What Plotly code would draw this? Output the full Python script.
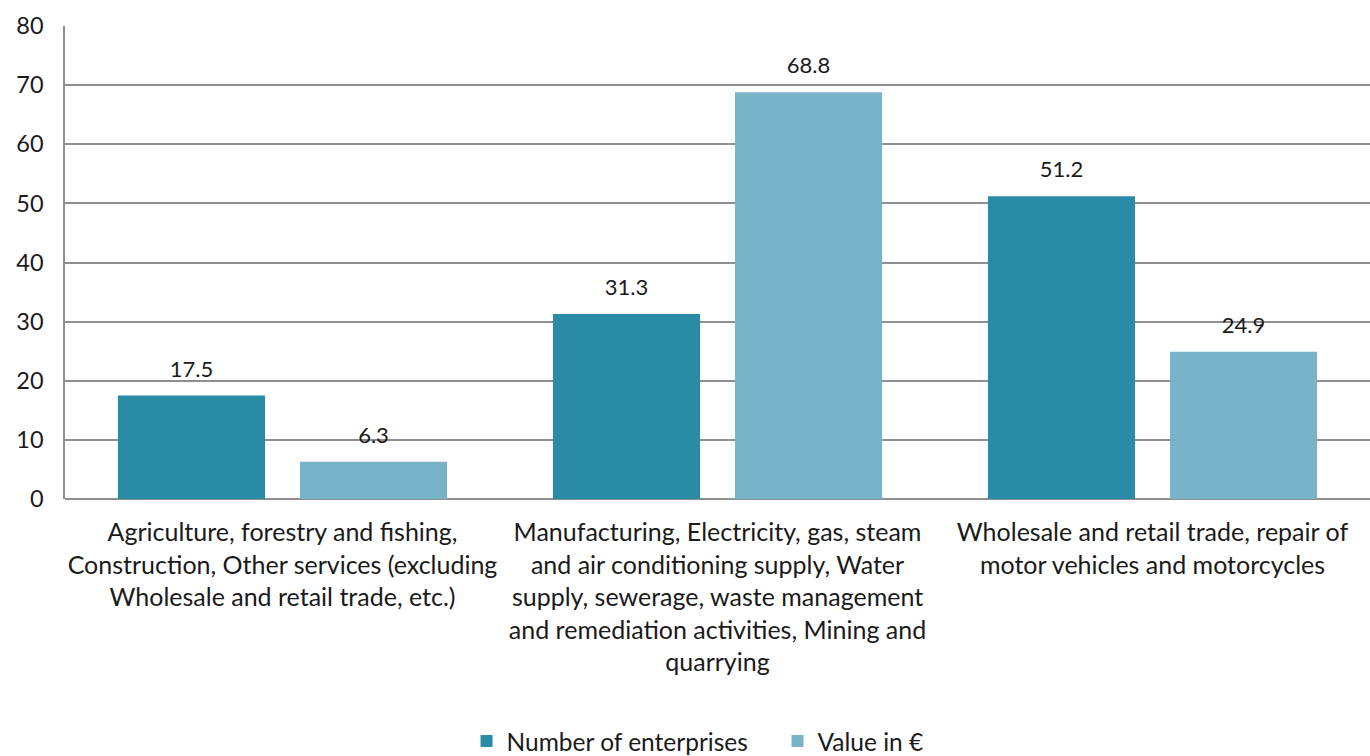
import plotly.graph_objects as go

categories = [
    "Agriculture, forestry and fishing,<br>Construction, Other services (excluding<br>Wholesale and retail trade, etc.)",
    "Manufacturing, Electricity, gas, steam<br>and air conditioning supply, Water<br>supply, sewerage, waste management<br>and remediation activities, Mining and<br>quarrying",
    "Wholesale and retail trade, repair of<br>motor vehicles and motorcycles",
]
enterprises = [17.5, 31.3, 51.2]
value_eur = [6.3, 68.8, 24.9]
series_names = ["Number of enterprises", "Value in €"]
y_ticks = [0, 10, 20, 30, 40, 50, 60, 70, 80]

FONT = "Lato"
dark = "#2a8ba7"
light = "#79b3c8"

fig = go.Figure()
fig.add_trace(go.Bar(x=categories, y=enterprises, name=series_names[0],
                     marker=dict(color=dark, line=dict(width=0))))
fig.add_trace(go.Bar(x=categories, y=value_eur, name=series_names[1],
                     marker=dict(color=light, line=dict(width=0))))
for vals in (enterprises, value_eur):
    fig.add_trace(go.Scatter(x=categories, y=vals, mode="markers+text",
                             text=[f"{v:.1f}" for v in vals],
                             textposition="top center",
                             textfont=dict(size=22, color="#1a1a1a", family=FONT),
                             marker=dict(size=20, opacity=0),
                             showlegend=False, hoverinfo="skip", cliponaxis=False))

fig.update_layout(
    width=1370, height=756,
    margin=dict(l=65, r=0, t=26, b=257, autoexpand=False),
    paper_bgcolor="white", plot_bgcolor="white",
    barmode="group", bargap=0.163, bargroupgap=0.192,
    scattermode="group", scattergap=0.163,
    font=dict(family=FONT, size=22, color="#1a1a1a"),
    legend=dict(orientation="h", x=0.546, xanchor="center", y=-0.512, yanchor="middle",
                font=dict(size=24.5, family=FONT), itemsizing="constant",
                entrywidth=266, entrywidthmode="pixels"),
    showlegend=True,
)
fig.update_xaxes(showgrid=False, showline=False, ticks="", ticklabelstandoff=16, tickangle=0,
                 tickfont=dict(size=25, family=FONT, color="#1a1a1a"))
fig.update_yaxes(range=[0, 80], tickvals=y_ticks, showgrid=True, gridcolor="#8f8f8f", gridwidth=1.5,
                 showline=True, linecolor="#8f8f8f", linewidth=1.5, zeroline=True,
                 zerolinecolor="#8f8f8f", zerolinewidth=1.5, ticks="", ticklabelstandoff=15,
                 tickfont=dict(size=23.5, family=FONT, color="#1a1a1a"))

fig.write_html("out.html", config={"displayModeBar": False},
               post_script="document.body.style.margin='0';document.body.style.overflow='hidden';")
